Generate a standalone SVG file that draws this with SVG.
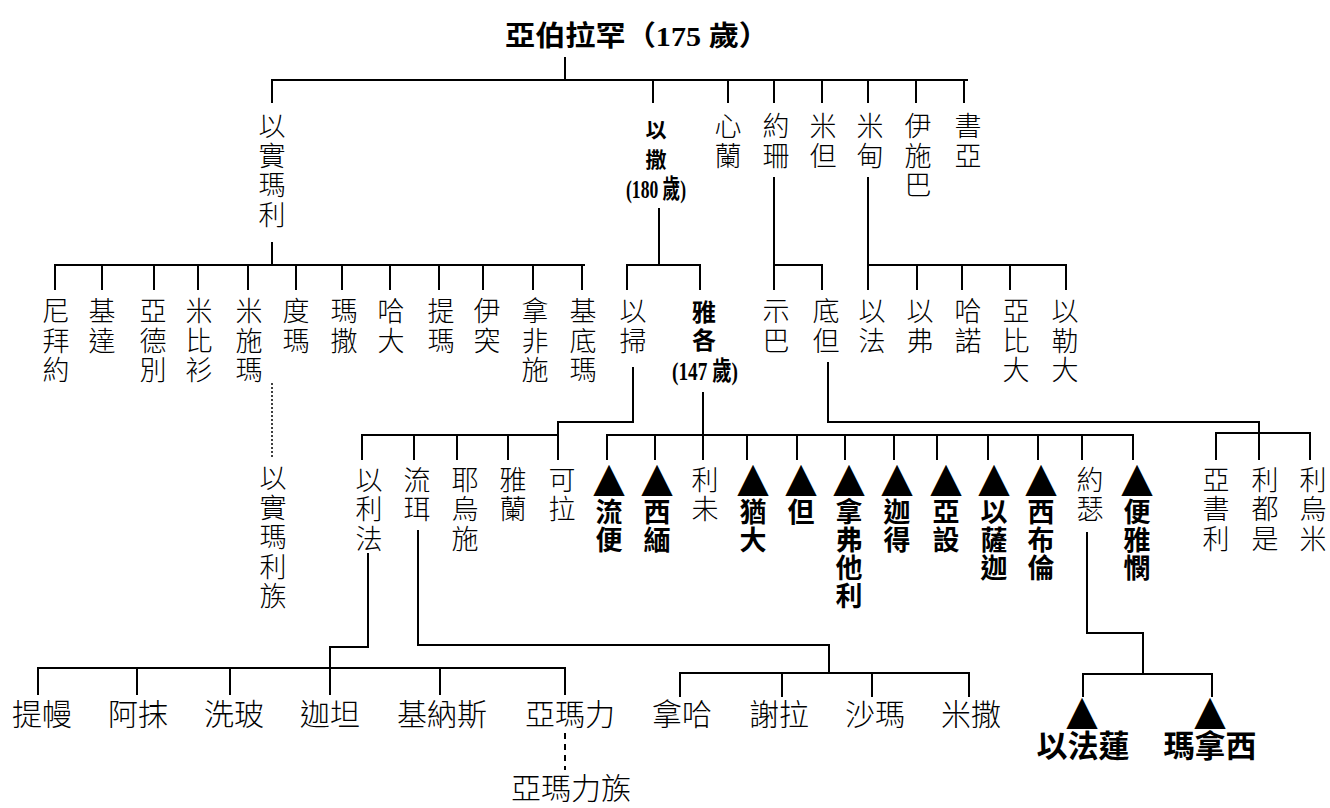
<svg xmlns="http://www.w3.org/2000/svg" width="1330" height="808" viewBox="0 0 1330 808">
<style>
text { font-family: "Noto Sans CJK TC", "Noto Sans CJK SC", sans-serif; fill: #000; text-anchor: middle; }
.n { font-size: 27px; font-weight: 300; }
.b { font-size: 27px; font-weight: 700; }
.sb { font-size: 21px; font-weight: 700; }
.mb { font-size: 24px; font-weight: 700; }
.h { font-size: 30px; font-weight: 300; }
.hb { font-size: 31px; font-weight: 700; }
.tri { font-family: "DejaVu Sans", sans-serif; font-size: 41px; }
.age { font-family: "Liberation Serif", "Noto Sans CJK TC", serif; font-size: 26px; font-weight: 700; }
.title { font-family: "Liberation Serif", "Noto Sans CJK TC", serif; font-size: 28px; font-weight: 700; text-anchor: start; }
.ln { fill: none; stroke: #000; stroke-width: 2; }
.dot { fill: none; stroke: #000; stroke-width: 1.5; stroke-dasharray: 2 2; }
.dash { fill: none; stroke: #000; stroke-width: 2; stroke-dasharray: 6 5; }
</style>

<g id="connectors">
  <path class="ln" d="M565,57 V80 M272,103 V80 H968 M653,80 V103 M728,80 V103 M774,80 V103 M822,80 V103 M868,80 V103 M916,80 V103 M964,80 V103"/>
  <path class="ln" d="M272,242 V265 M55,290 V265 H585 M102,265 V290 M154,265 V290 M198,265 V290 M248,265 V290 M296,265 V290 M342,265 V290 M390,265 V290 M439,265 V290 M483,265 V290 M533,265 V290 M582,265 V290"/>
  <path class="ln" d="M659,208 V265 M627,290 V265 H700 V290"/>
  <path class="ln" d="M774,177 V290 M774,265 H822 V290"/>
  <path class="ln" d="M868,177 V290 M868,265 H1066 V290 M917,265 V290 M962,265 V290 M1010,265 V290"/>
  <path class="ln" d="M633,367 V422 H558 V460 M362,460 V435 H558 M414,435 V460 M457,435 V460 M508,435 V460"/>
  <path class="ln" d="M703,392 V460 M607,460 V435 H1133 V460 M655,435 V460 M747,435 V460 M797,435 V460 M845,435 V460 M894,435 V460 M937,435 V460 M988,435 V460 M1038,435 V460 M1082,435 V460"/>
  <path class="ln" d="M828,362 V422 H1259 V460 M1216,460 V433 H1310 V460"/>
  <path class="ln" d="M368,553 V647 H330 V695 M38,695 V668 H565 V695 M137,668 V695 M230,668 V695 M440,668 V695"/>
  <path class="ln" d="M418,530 V645 H829 V673 M680,697 V673 H969 V697 M782,673 V697 M872,673 V697"/>
  <path class="ln" d="M1087,532 V633 H1143 V674 M1083,697 V674 H1212 V697"/>
  <path class="dot" d="M272,383 V457"/>
  <path class="dash" d="M565,733 V770"/>
</g>

<g id="abraham"><text class="title" x="505" y="46" textLength="264" lengthAdjust="spacingAndGlyphs">亞伯拉罕（175 歲）</text></g>

<g id="ishmael"><text class="n"><tspan x="272" y="136">以</tspan><tspan x="272" y="165.5">實</tspan><tspan x="272" y="195">瑪</tspan><tspan x="272" y="224.5">利</tspan></text></g>
<g id="isaac"><text class="sb"><tspan x="656" y="136.5">以</tspan><tspan x="656" y="166.5">撒</tspan></text><text class="age" x="656" y="198" textLength="60" lengthAdjust="spacingAndGlyphs">(180 歲)</text></g>
<g id="zimran"><text class="n"><tspan x="728" y="136">心</tspan><tspan x="728" y="165.5">蘭</tspan></text></g>
<g id="jokshan"><text class="n"><tspan x="776" y="136">約</tspan><tspan x="776" y="165.5">珊</tspan></text></g>
<g id="medan"><text class="n"><tspan x="823" y="136">米</tspan><tspan x="823" y="165.5">但</tspan></text></g>
<g id="midian"><text class="n"><tspan x="870" y="136">米</tspan><tspan x="870" y="165.5">甸</tspan></text></g>
<g id="ishbak"><text class="n"><tspan x="918" y="136">伊</tspan><tspan x="918" y="165.5">施</tspan><tspan x="918" y="195">巴</tspan></text></g>
<g id="shuah"><text class="n"><tspan x="968" y="136">書</tspan><tspan x="968" y="165.5">亞</tspan></text></g>

<g id="nebaioth"><text class="n"><tspan x="56" y="321">尼</tspan><tspan x="56" y="350.5">拜</tspan><tspan x="56" y="380">約</tspan></text></g>
<g id="kedar"><text class="n"><tspan x="102" y="321">基</tspan><tspan x="102" y="350.5">達</tspan></text></g>
<g id="adbeel"><text class="n"><tspan x="153" y="321">亞</tspan><tspan x="153" y="350.5">德</tspan><tspan x="153" y="380">別</tspan></text></g>
<g id="mibsam"><text class="n"><tspan x="199" y="321">米</tspan><tspan x="199" y="350.5">比</tspan><tspan x="199" y="380">衫</tspan></text></g>
<g id="mishma"><text class="n"><tspan x="249" y="321">米</tspan><tspan x="249" y="350.5">施</tspan><tspan x="249" y="380">瑪</tspan></text></g>
<g id="dumah"><text class="n"><tspan x="296" y="321">度</tspan><tspan x="296" y="350.5">瑪</tspan></text></g>
<g id="massa"><text class="n"><tspan x="344" y="321">瑪</tspan><tspan x="344" y="350.5">撒</tspan></text></g>
<g id="hadad"><text class="n"><tspan x="391" y="321">哈</tspan><tspan x="391" y="350.5">大</tspan></text></g>
<g id="tema"><text class="n"><tspan x="441" y="321">提</tspan><tspan x="441" y="350.5">瑪</tspan></text></g>
<g id="jetur"><text class="n"><tspan x="487" y="321">伊</tspan><tspan x="487" y="350.5">突</tspan></text></g>
<g id="naphish"><text class="n"><tspan x="535" y="321">拿</tspan><tspan x="535" y="350.5">非</tspan><tspan x="535" y="380">施</tspan></text></g>
<g id="kedemah"><text class="n"><tspan x="583" y="321">基</tspan><tspan x="583" y="350.5">底</tspan><tspan x="583" y="380">瑪</tspan></text></g>
<g id="ishmaelites"><text class="n"><tspan x="273" y="488">以</tspan><tspan x="273" y="517.5">實</tspan><tspan x="273" y="547">瑪</tspan><tspan x="273" y="576.5">利</tspan><tspan x="273" y="606">族</tspan></text></g>

<g id="esau"><text class="n"><tspan x="633" y="321">以</tspan><tspan x="633" y="350.5">掃</tspan></text></g>
<g id="jacob"><text class="mb"><tspan x="704" y="321">雅</tspan><tspan x="704" y="348.5">各</tspan></text><text class="age" x="705" y="379.5" textLength="66" lengthAdjust="spacingAndGlyphs">(147 歲)</text></g>
<g id="sheba"><text class="n"><tspan x="776" y="321">示</tspan><tspan x="776" y="350.5">巴</tspan></text></g>
<g id="dedan"><text class="n"><tspan x="826" y="321">底</tspan><tspan x="826" y="350.5">但</tspan></text></g>
<g id="ephah"><text class="n"><tspan x="872" y="321">以</tspan><tspan x="872" y="350.5">法</tspan></text></g>
<g id="epher"><text class="n"><tspan x="920" y="321">以</tspan><tspan x="920" y="350.5">弗</tspan></text></g>
<g id="hanoch"><text class="n"><tspan x="968" y="321">哈</tspan><tspan x="968" y="350.5">諾</tspan></text></g>
<g id="abida"><text class="n"><tspan x="1016" y="321">亞</tspan><tspan x="1016" y="350.5">比</tspan><tspan x="1016" y="380">大</tspan></text></g>
<g id="eldaah"><text class="n"><tspan x="1065" y="321">以</tspan><tspan x="1065" y="350.5">勒</tspan><tspan x="1065" y="380">大</tspan></text></g>

<g id="eliphaz"><text class="n"><tspan x="369" y="489.5">以</tspan><tspan x="369" y="519">利</tspan><tspan x="369" y="548.5">法</tspan></text></g>
<g id="reuel"><text class="n"><tspan x="417" y="489.5">流</tspan><tspan x="417" y="519">珥</tspan></text></g>
<g id="jeush"><text class="n"><tspan x="465" y="489.5">耶</tspan><tspan x="465" y="519">烏</tspan><tspan x="465" y="548.5">施</tspan></text></g>
<g id="jalam"><text class="n"><tspan x="513" y="489.5">雅</tspan><tspan x="513" y="519">蘭</tspan></text></g>
<g id="korah"><text class="n"><tspan x="562" y="489.5">可</tspan><tspan x="562" y="519">拉</tspan></text></g>

<g id="reuben"><text class="tri" x="609" y="491">▲</text><text class="b"><tspan x="609" y="521.5">流</tspan><tspan x="609" y="549.5">便</tspan></text></g>
<g id="simeon"><text class="tri" x="657" y="491">▲</text><text class="b"><tspan x="657" y="521.5">西</tspan><tspan x="657" y="549.5">緬</tspan></text></g>
<g id="levi"><text class="n"><tspan x="705" y="489.5">利</tspan><tspan x="705" y="519">未</tspan></text></g>
<g id="judah"><text class="tri" x="753" y="491">▲</text><text class="b"><tspan x="753" y="521.5">猶</tspan><tspan x="753" y="549.5">大</tspan></text></g>
<g id="dan"><text class="tri" x="801" y="491">▲</text><text class="b"><tspan x="801" y="521.5">但</tspan></text></g>
<g id="naphtali"><text class="tri" x="849" y="491">▲</text><text class="b"><tspan x="849" y="521.5">拿</tspan><tspan x="849" y="549.5">弗</tspan><tspan x="849" y="577.5">他</tspan><tspan x="849" y="605.5">利</tspan></text></g>
<g id="gad"><text class="tri" x="897" y="491">▲</text><text class="b"><tspan x="897" y="521.5">迦</tspan><tspan x="897" y="549.5">得</tspan></text></g>
<g id="asher"><text class="tri" x="946" y="491">▲</text><text class="b"><tspan x="946" y="521.5">亞</tspan><tspan x="946" y="549.5">設</tspan></text></g>
<g id="issachar"><text class="tri" x="994" y="491">▲</text><text class="b"><tspan x="994" y="521.5">以</tspan><tspan x="994" y="549.5">薩</tspan><tspan x="994" y="577.5">迦</tspan></text></g>
<g id="zebulun"><text class="tri" x="1041" y="491">▲</text><text class="b"><tspan x="1041" y="521.5">西</tspan><tspan x="1041" y="549.5">布</tspan><tspan x="1041" y="577.5">倫</tspan></text></g>
<g id="joseph"><text class="n"><tspan x="1090" y="489.5">約</tspan><tspan x="1090" y="519">瑟</tspan></text></g>
<g id="benjamin"><text class="tri" x="1137" y="491">▲</text><text class="b"><tspan x="1137" y="521.5">便</tspan><tspan x="1137" y="549.5">雅</tspan><tspan x="1137" y="577.5">憫</tspan></text></g>

<g id="asshurim"><text class="n"><tspan x="1216" y="489.5">亞</tspan><tspan x="1216" y="519">書</tspan><tspan x="1216" y="548.5">利</tspan></text></g>
<g id="letushim"><text class="n"><tspan x="1265" y="489.5">利</tspan><tspan x="1265" y="519">都</tspan><tspan x="1265" y="548.5">是</tspan></text></g>
<g id="leummim"><text class="n"><tspan x="1313" y="489.5">利</tspan><tspan x="1313" y="519">烏</tspan><tspan x="1313" y="548.5">米</tspan></text></g>

<g id="teman"><text class="h" x="42" y="725">提幔</text></g>
<g id="omar"><text class="h" x="138" y="725">阿抹</text></g>
<g id="zepho"><text class="h" x="234" y="725">洗玻</text></g>
<g id="gatam"><text class="h" x="330" y="725">迦坦</text></g>
<g id="kenaz"><text class="h" x="442" y="725">基納斯</text></g>
<g id="amalek"><text class="h" x="570" y="725">亞瑪力</text></g>
<g id="amalekites"><text class="h" x="571" y="799">亞瑪力族</text></g>
<g id="nahath"><text class="h" x="682" y="725">拿哈</text></g>
<g id="zerah"><text class="h" x="779" y="725">謝拉</text></g>
<g id="shammah"><text class="h" x="875" y="725">沙瑪</text></g>
<g id="mizzah"><text class="h" x="971" y="725">米撒</text></g>
<g id="ephraim"><text class="tri" x="1082" y="724">▲</text><text class="hb" x="1083" y="757">以法蓮</text></g>
<g id="manasseh"><text class="tri" x="1210" y="724">▲</text><text class="hb" x="1210" y="757">瑪拿西</text></g>
</svg>
